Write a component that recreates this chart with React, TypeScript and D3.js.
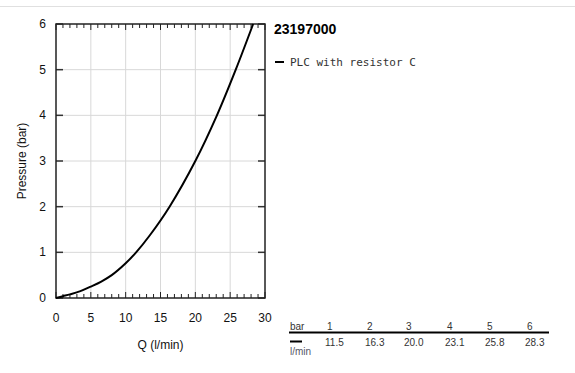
import React from "react";
import * as d3 from "d3";

const flowQ = [0, 1, 2, 3.5, 5, 6.5, 8, 10, 11.5, 13.5, 16.3, 20.0, 23.1, 25.8, 28.3];
const pressureP = [0, 0.04, 0.08, 0.15, 0.25, 0.36, 0.5, 0.76, 1, 1.38, 2, 3, 4, 5, 6];
const xTicks = [0, 5, 10, 15, 20, 25, 30];
const yTicks = [0, 1, 2, 3, 4, 5, 6];
const tableBar = ["1", "2", "3", "4", "5", "6"];
const tableFlow = ["11.5", "16.3", "20.0", "23.1", "25.8", "28.3"];
const title = "23197000";
const seriesName = "PLC with resistor C";

export default function App() {
  const W = 575, H = 373;
  const L = 56, R = 265, T = 24, B = 298;
  const x = d3.scaleLinear().domain([0, 30]).range([L, R]);
  const y = d3.scaleLinear().domain([0, 6]).range([B, T]);
  const pts: [number, number][] = flowQ.map((q, i) => [q, pressureP[i]]);
  const line = d3.line<[number, number]>().x(d => x(d[0])).y(d => y(d[1])).curve(d3.curveCatmullRom.alpha(0.5));
  const minor = d3.range(0, 31, 1);
  const font = "Arial, 'Liberation Sans', sans-serif";
  const colX = [327, 367, 406, 447, 487, 527];
  return (
    <svg width={W} height={H} style={{ position: "absolute", left: 0, top: 0 }} fontFamily={font}>
      <rect x={0} y={0} width={W} height={H} fill="#fff" />
      <line x1={0} x2={W} y1={6.5} y2={6.5} stroke="#e0e0e0" strokeWidth={1} />
      {xTicks.slice(1, -1).map(t => (
        <line key={"gx" + t} x1={x(t)} x2={x(t)} y1={T} y2={B} stroke="#d8d8d8" strokeWidth={1} />
      ))}
      {yTicks.slice(1, -1).map(t => (
        <line key={"gy" + t} x1={L} x2={R} y1={y(t)} y2={y(t)} stroke="#d8d8d8" strokeWidth={1} />
      ))}
      {minor.map(t => {
        const major = t % 5 === 0;
        const len = major ? 6 : 4;
        return (
          <g key={"m" + t}>
            <line x1={x(t)} x2={x(t)} y1={T} y2={T + len} stroke="#222" strokeWidth={1} />
            <line x1={x(t)} x2={x(t)} y1={B} y2={B - len} stroke="#222" strokeWidth={1} />
          </g>
        );
      })}
      {yTicks.map(t => (
        <g key={"yt" + t}>
          <line x1={L} x2={L + 7} y1={y(t)} y2={y(t)} stroke="#333" strokeWidth={1.5} />
          <line x1={R - 7} x2={R} y1={y(t)} y2={y(t)} stroke="#333" strokeWidth={1.5} />
          <text x={L - 10} y={y(t) + 4} fontSize={12} textAnchor="end" fill="#111">{t}</text>
        </g>
      ))}
      {xTicks.map(t => (
        <text key={"xt" + t} x={x(t)} y={322} fontSize={12} textAnchor="middle" fill="#111">{t}</text>
      ))}
      <rect x={L} y={T} width={R - L} height={B - T} fill="none" stroke="#222" strokeWidth={1.5} />
      <path d={line(pts) || ""} fill="none" stroke="#000" strokeWidth={2} />
      <text x={(L + R) / 2} y={349} fontSize={12} textAnchor="middle" fill="#111">Q (l/min)</text>
      <text transform={`translate(26,${(T + B) / 2}) rotate(-90)`} fontSize={12} textAnchor="middle" fill="#111">Pressure (bar)</text>
      <text x={274} y={34} fontSize={14} fontWeight="bold" fill="#000">{title}</text>
      <line x1={275} x2={284} y1={62} y2={62} stroke="#000" strokeWidth={2} />
      <text x={290} y={66} fontSize={11} fill="#333" fontFamily="'DejaVu Sans Mono', 'Liberation Mono', monospace">{seriesName}</text>
      <text x={290} y={330} fontSize={10} fill="#333">bar</text>
      {tableBar.map((b, i) => (
        <text key={"tb" + i} x={colX[i]} y={330} fontSize={10} fill="#333">{b}</text>
      ))}
      <line x1={289} x2={549} y1={332.5} y2={332.5} stroke="#000" strokeWidth={2} />
      <line x1={290} x2={302} y1={341.5} y2={341.5} stroke="#000" strokeWidth={2} />
      {tableFlow.map((v, i) => (
        <text key={"tf" + i} x={colX[i] - 2} y={346} fontSize={10} fill="#333">{v}</text>
      ))}
      <text x={290} y={355} fontSize={10} fill="#556">l/min</text>
    </svg>
  );
}
